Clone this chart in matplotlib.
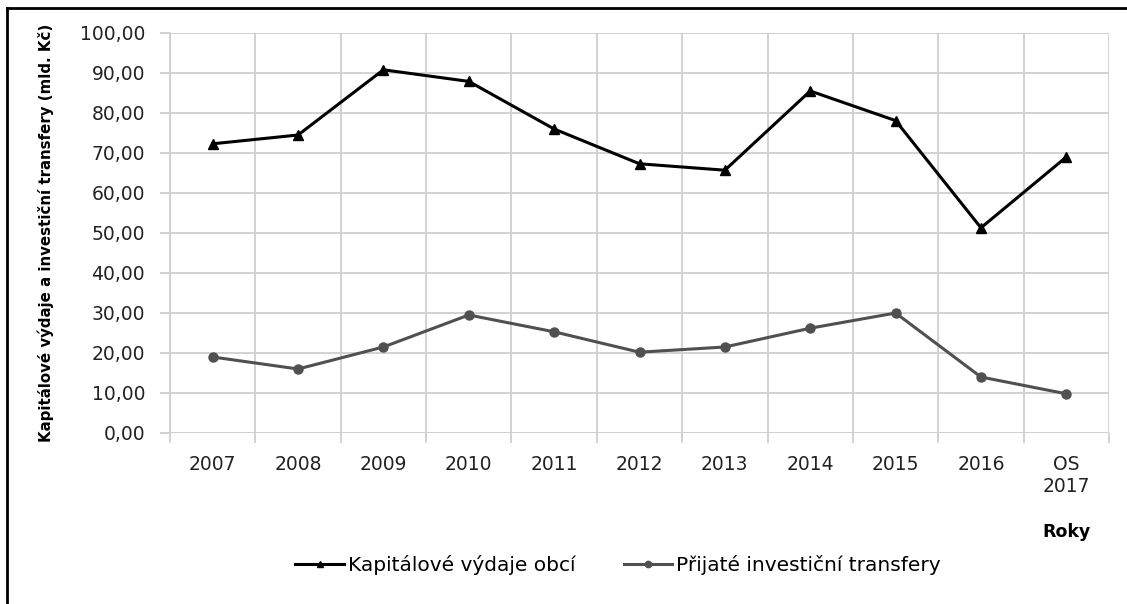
import matplotlib
matplotlib.use("Agg")
import matplotlib.pyplot as plt
from matplotlib import font_manager
from matplotlib.lines import Line2D
from matplotlib.ticker import FixedLocator, FuncFormatter
import numpy as np

# data
roky = ["2007", "2008", "2009", "2010", "2011", "2012", "2013", "2014", "2015", "2016", "OS\n2017"]
kapitalove_vydaje = [72.3, 74.5, 90.8, 87.9, 76.0, 67.3, 65.7, 85.5, 78.1, 51.3, 69.0]
investicni_transfery = [19.0, 16.0, 21.5, 29.5, 25.3, 20.2, 21.5, 26.2, 30.0, 14.0, 9.8]

names = {f.name for f in font_manager.fontManager.ttflist}
narrow = "Liberation Sans Narrow" if "Liberation Sans Narrow" in names else None

W, H = 1127, 604
fig = plt.figure(figsize=(W / 100, H / 100), dpi=100)
ax = fig.add_axes([170 / W, 1 - 433 / H, 939 / W, 400 / H])

x = np.arange(len(roky))
ax.plot(x, kapitalove_vydaje, color="black", lw=2.2, marker="^", ms=6.5,
        label="Kapitálové výdaje obcí", zorder=3)
ax.plot(x, investicni_transfery, color="#505050", lw=2.2, marker="o", ms=6.5,
        label="Přijaté investiční transfery", zorder=3)

ax.set_xlim(-0.5, len(roky) - 0.5)
ax.set_ylim(0, 100)
ax.set_yticks(np.arange(0, 101, 10))
ax.yaxis.set_major_formatter(FuncFormatter(lambda v, p: f"{v:.2f}".replace(".", ",")))
ax.set_xticks(x)
ax.set_xticklabels(roky)
ax.xaxis.set_minor_locator(FixedLocator(np.arange(-0.5, len(roky), 1)))

grid_c = "#cfcfcf"
ax.grid(True, axis="y", which="major", color=grid_c, lw=1.3)
ax.grid(True, axis="x", which="minor", color=grid_c, lw=1.3)
ax.set_axisbelow(True)
for s in ["top", "right", "bottom"]:
    ax.spines[s].set_visible(False)
ax.spines["left"].set_color(grid_c)
ax.spines["left"].set_linewidth(1.3)
ax.tick_params(axis="x", which="major", length=0, pad=16, labelsize=13.5, colors="#222222")
ax.tick_params(axis="x", which="minor", length=7, color=grid_c, width=1.3)
ax.tick_params(axis="y", length=7, color=grid_c, width=1.3, pad=11, labelsize=13.5,
               colors="#222222")
ax.axhline(0, color=grid_c, lw=1.3)

ylab = "Kapitálové výdaje a investiční transfery (mld. Kč)"
if narrow:
    ax.set_ylabel(ylab, fontsize=14, fontweight="bold", family=narrow)
else:
    ax.set_ylabel(ylab, fontsize=10.8, fontweight="bold")
ax.yaxis.set_label_coords((54 - 170) / 939, 0.5)
fig.text(1067 / W, 1 - 532 / H, "Roky", fontsize=12.5, fontweight="bold",
         ha="center", va="center")

fig.legend(loc="center", bbox_to_anchor=(618 / W, 1 - 565 / H), ncol=2,
           frameon=False, fontsize=14.5, handlelength=2.4, handletextpad=0.2,
           columnspacing=2.4, markerscale=0.7)

# outer frame of the chart (left and top edges visible in the reference)
fig.add_artist(Line2D([7 / W, 7 / W], [0, 1 - 8 / H], transform=fig.transFigure,
                      color="black", lw=2))
fig.add_artist(Line2D([7 / W, 1], [1 - 8 / H, 1 - 8 / H], transform=fig.transFigure,
                      color="black", lw=2))

fig.savefig("out.png", dpi=100)
